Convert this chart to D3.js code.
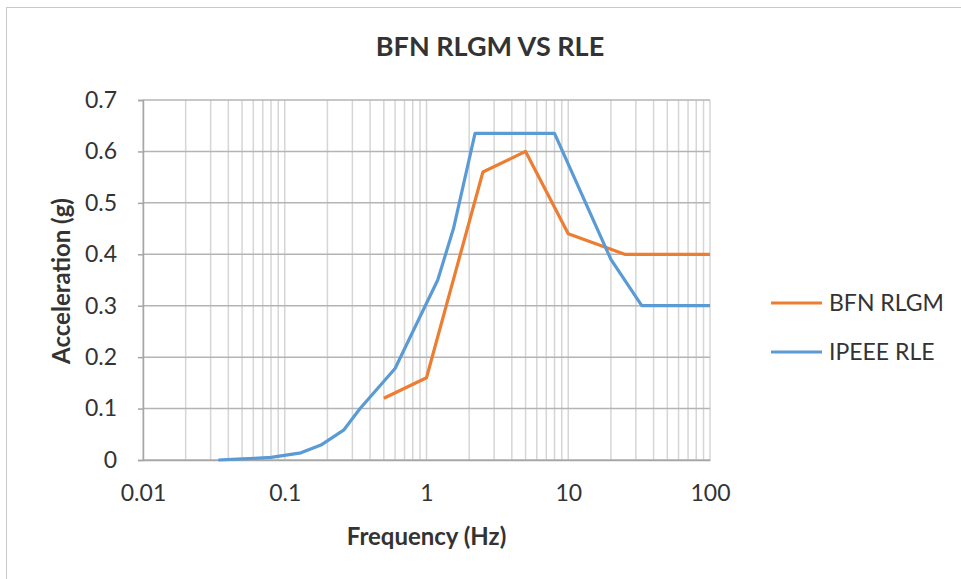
<!DOCTYPE html>
<html>
<head>
<meta charset="utf-8">
<script src="https://cdn.jsdelivr.net/npm/d3@7"></script>
<style>
  body { margin: 0; background: #fff; }
  text { font-family: Lato, "Open Sans", sans-serif; fill: #333; }
</style>
</head>
<body>
<div id="chart"></div>
<script>
// data
var rlgmFreq = [0.5, 1, 2.5, 5, 10, 25, 100];
var rlgmAcc  = [0.12, 0.16, 0.56, 0.60, 0.44, 0.40, 0.40];

var rleFreq = [0.034, 0.05, 0.08, 0.13, 0.18, 0.26, 0.34, 0.6, 1.2, 1.55, 2.2, 8, 20, 33, 100];
var rleAcc  = [0, 0.002, 0.005, 0.014, 0.029, 0.058, 0.10, 0.178, 0.35, 0.45, 0.635, 0.635, 0.39, 0.30, 0.30];

var xLabels = [0.01, 0.1, 1, 10, 100];
var yTicks = [0, 0.1, 0.2, 0.3, 0.4, 0.5, 0.6, 0.7];

var seriesNames = ["BFN RLGM", "IPEEE RLE"];
var seriesColors = ["#ED7D31", "#5B9BD5"];

var W = 961, H = 579;
var margin = { top: 100, right: 251, bottom: 119, left: 143 };

var svg = d3.select("#chart").append("svg")
  .attr("width", W)
  .attr("height", H);

// outer chart frame
svg.append("rect")
  .attr("x", 6.5).attr("y", 7.5)
  .attr("width", 1000).attr("height", 1000)
  .attr("fill", "none")
  .attr("stroke", "#c8c8c8")
  .attr("stroke-width", 1);

var x = d3.scaleLog()
  .domain([0.01, 100])
  .range([margin.left, W - margin.right]);
var y = d3.scaleLinear()
  .domain([0, 0.7])
  .range([H - margin.bottom, margin.top]);

// vertical grid (every 1..9 per decade)
svg.append("g").selectAll("line")
  .data(x.ticks())
  .enter().append("line")
    .attr("x1", function(d) { return x(d); })
    .attr("x2", function(d) { return x(d); })
    .attr("y1", y(0))
    .attr("y2", y(0.7))
    .attr("stroke", "#d6d6d6")
    .attr("stroke-width", 1.5);

// horizontal grid
svg.append("g").selectAll("line")
  .data(yTicks)
  .enter().append("line")
    .attr("x1", x(0.01))
    .attr("x2", x(100))
    .attr("y1", function(d) { return y(d); })
    .attr("y2", function(d) { return y(d); })
    .attr("stroke", "#b4b4b4")
    .attr("stroke-width", 1.5);

// x axis
var xAxis = svg.append("g")
  .attr("transform", "translate(0," + y(0) + ")")
  .call(d3.axisBottom(x)
    .tickValues(xLabels)
    .tickFormat(function(d) { return String(d); })
    .tickSize(0)
    .tickPadding(25));
xAxis.select(".domain").attr("stroke", "#a6a6a6").attr("stroke-width", 1.5);
xAxis.selectAll("text").style("font-size", "23px").attr("fill", "#333");

// y axis
var yAxis = svg.append("g")
  .attr("transform", "translate(" + x(0.01) + ",0)")
  .call(d3.axisLeft(y)
    .tickValues(yTicks)
    .tickFormat(function(d) { return d === 0 ? "0" : d3.format(".1f")(d); })
    .tickSize(5)
    .tickPadding(21));
yAxis.select(".domain").attr("stroke", "#a6a6a6").attr("stroke-width", 1.5);
yAxis.selectAll(".tick line").attr("stroke", "#a6a6a6").attr("stroke-width", 1.5);
yAxis.selectAll("text").style("font-size", "23px").attr("fill", "#333");

// lines
var line = d3.line()
  .x(function(d) { return x(d[0]); })
  .y(function(d) { return y(d[1]); });

var series = [d3.zip(rlgmFreq, rlgmAcc), d3.zip(rleFreq, rleAcc)];

svg.append("g").selectAll("path")
  .data(series)
  .enter().append("path")
    .attr("d", line)
    .attr("fill", "none")
    .attr("stroke", function(d, i) { return seriesColors[i]; })
    .attr("stroke-width", 3.2)
    .attr("stroke-linejoin", "round");

// title
svg.append("text")
  .attr("x", 490)
  .attr("y", 56)
  .attr("text-anchor", "middle")
  .style("font-size", "27px")
  .style("font-weight", "bold")
  .attr("fill", "#111")
  .text("BFN RLGM VS RLE");

// axis titles
svg.append("text")
  .attr("x", (x(0.01) + x(100)) / 2)
  .attr("y", 545)
  .attr("text-anchor", "middle")
  .style("font-size", "24px")
  .style("font-weight", "bold")
  .attr("fill", "#222")
  .text("Frequency (Hz)");

svg.append("text")
  .attr("transform", "translate(70,281) rotate(-90)")
  .attr("text-anchor", "middle")
  .style("font-size", "24px")
  .style("font-weight", "bold")
  .attr("fill", "#222")
  .text("Acceleration (g)");

// legend
var legend = svg.append("g").selectAll("g")
  .data(seriesNames)
  .enter().append("g")
    .attr("transform", function(d, i) { return "translate(771," + (303 + i * 49) + ")"; });

legend.append("line")
  .attr("x1", 0).attr("x2", 51)
  .attr("stroke", function(d, i) { return seriesColors[i]; })
  .attr("stroke-width", 3.2);

legend.append("text")
  .attr("x", 58)
  .attr("dy", "0.35em")
  .style("font-size", "23px")
  .text(function(d) { return d; });
</script>
</body>
</html>
